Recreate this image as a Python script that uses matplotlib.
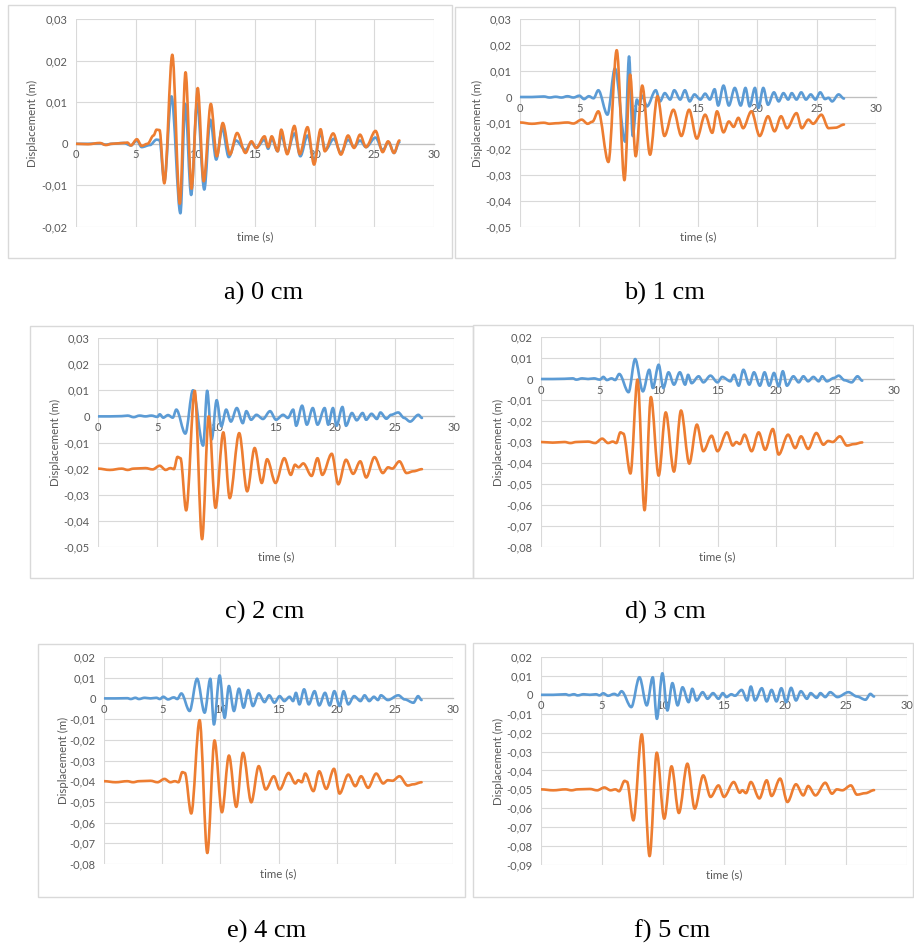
import matplotlib
matplotlib.use('Agg')
import matplotlib.pyplot as plt
from matplotlib.patches import Rectangle, PathPatch
from matplotlib.path import Path
from matplotlib.ticker import FuncFormatter, MultipleLocator

W, H = 914, 949
BLUE = '#5B9BD5'
ORANGE = '#ED7D31'

# displacement traces, (time s, displacement m) at peaks/troughs
a_blue = [(0,0),(1,0),(2,0.0001),(2.5,-0.0002),(3,0),(4,0.0002),(4.6,-0.0004),(5.1,0.0008),(5.5,-0.0008),
  (6.2,-0.0003),(6.75,0.001),(7.0,0.0009),(7.4,-0.009),(8.0,0.0114),(8.75,-0.0167),(9.15,0.0096),(9.65,-0.0123),
  (10.15,0.0098),(10.75,-0.011),(11.25,0.0058),(11.75,-0.0038),(12.25,0.0038),(12.8,-0.0032),(13.4,0.0008),
  (14.2,-0.0015),(14.7,0.0003),(15.1,-0.001),(15.8,0.001),(16.1,-0.0012),(16.4,0.0012),(16.9,-0.0018),(17.2,0.002),
  (17.7,-0.002),(18.3,0.0025),(18.8,-0.003),(19.4,0.002),(19.95,-0.004),(20.5,0.0025),(20.9,-0.0015),(21.6,0.0012),
  (22.2,-0.0022),(22.8,0.001),(23.3,-0.0008),(23.8,0.0008),(24.3,-0.0008),(25.1,0.0015),(25.7,-0.0015),(26.2,0.0004),
  (26.65,-0.0022),(27.1,0.0004)]
a_orange = [(0,0),(1,-0.0001),(2,0.0002),(2.5,-0.0003),(3,0),(3.5,0.0001),(4,0.0002),(4.3,0.0003),(4.6,-0.0004),
  (5.1,0.0011),(5.5,-0.0005),(6.0,0),(6.5,0.002),(6.75,0.0034),(7.0,0.0033),(7.4,-0.0095),(8.07,0.0214),(8.7,-0.0144),
  (9.18,0.0172),(9.68,-0.0108),(10.2,0.0134),(10.7,-0.009),(11.3,0.0096),(11.8,-0.003),(12.3,0.005),(12.9,-0.0026),
  (13.5,0.0026),(14.2,-0.0022),(14.7,0.0006),(15.1,-0.001),(15.8,0.0018),(16.1,-0.0008),(16.4,0.0018),(16.9,-0.0018),
  (17.2,0.0034),(17.7,-0.0025),(18.3,0.0043),(18.75,-0.0025),(19.4,0.004),(19.95,-0.005),(20.5,0.0035),(20.85,-0.0018),
  (21.55,0.0025),(22.2,-0.0026),(22.8,0.002),(23.3,-0.001),(23.8,0.0022),(24.3,-0.0008),(25.1,0.0031),(25.7,-0.002),
  (26.15,0.0006),(26.65,-0.0022),(27.1,0.0008)]

b_blue = [(0,0),(1,0),(2,0.0002),(2.5,-0.0002),(3,0.0001),(3.5,-0.0002),(4,0.0003),(4.5,-0.0002),(5.0,0.0005),
  (5.4,-0.0008),(5.8,0.0003),(6.2,-0.0005),(6.6,0.0026),(7.37,-0.0068),(8.0,0.011),(8.86,-0.0172),(9.19,0.0156),
  (9.5,-0.015),(9.85,-0.001),(10.05,-0.003),(10.3,0.0005),(10.7,-0.0036),(11.44,0.0026),(11.8,-0.0017),(12.2,0.0015),
  (12.65,-0.001),(13.0,0.0026),(13.5,-0.001),(13.9,0.0026),(14.3,-0.0017),(14.7,0.001),(15.2,-0.001),(15.6,0.0013),
  (16.0,-0.001),(16.4,0.003),(16.7,-0.0033),(17.15,0.0044),(17.6,-0.0033),(18.1,0.0035),(18.6,-0.0033),(19.0,0.0035),
  (19.35,-0.0036),(19.8,0.0035),(20.1,-0.0042),(20.5,0.0035),(20.9,-0.003),(21.4,0.0018),(21.8,-0.0017),(22.2,0.0015),
  (22.6,-0.001),(22.9,0.0015),(23.3,-0.001),(23.7,0.0018),(24.1,-0.001),(24.5,0.001),(24.9,-0.001),(25.3,0.0018),
  (25.7,-0.0008),(26.0,-0.0003),(26.3,-0.0017),(26.85,0.001),(27.3,-0.0006)]
b_orange = [(0,-0.0098),(1,-0.0103),(2,-0.0099),(2.5,-0.0103),(3,-0.0101),(4,-0.0098),(4.5,-0.0102),(5.2,-0.0087),
  (5.7,-0.0103),(6.1,-0.0095),(6.6,-0.0055),(7.45,-0.025),(8.15,0.018),(8.8,-0.032),(9.28,0.0086),(9.75,-0.0228),
  (10.3,0.0044),(10.96,-0.0222),(11.58,0.0003),(12.17,-0.015),(12.93,-0.0049),(13.6,-0.015),(14.25,-0.0049),
  (14.9,-0.016),(15.6,-0.0068),(16.2,-0.0138),(16.6,-0.0055),(17.15,-0.0136),(17.6,-0.0094),(18.0,-0.0115),
  (18.4,-0.008),(18.8,-0.012),(19.5,-0.0055),(20.2,-0.015),(20.9,-0.0074),(21.45,-0.0132),(22.0,-0.0074),(22.5,-0.012),
  (23.3,-0.0062),(23.75,-0.012),(24.3,-0.0087),(24.7,-0.0103),(25.4,-0.0068),(26.0,-0.012),(26.6,-0.0118),(27.3,-0.0106)]

c_blue = [(0,0),(1,0),(2,0.0001),(2.5,0.0003),(3,-0.0003),(3.5,0.0003),(4,0),(4.5,0.0003),(5.0,-0.0002),(5.2,0.0008),
  (5.5,-0.0005),(5.9,0.0005),(6.3,-0.0005),(6.6,0.0026),(7.36,-0.0066),(8.0,0.01),(8.86,-0.0112),(9.2,0.0098),
  (9.58,-0.0088),(10.0,0.0062),(10.4,-0.0038),(10.8,0.0026),(11.2,-0.002),(11.7,0.0032),(12.2,-0.0026),(12.5,0.002),
  (12.9,-0.0013),(13.35,0.0006),(13.9,-0.001),(14.5,0.002),(15.0,-0.0013),(15.6,0.0006),(16.0,-0.0006),(16.45,0.0026),
  (16.7,-0.0036),(17.2,0.0041),(17.6,-0.0032),(18.1,0.0032),(18.5,-0.0032),(19.1,0.0032),(19.4,-0.0032),(19.8,0.0032),
  (20.1,-0.0036),(20.6,0.0036),(20.9,-0.0036),(21.4,0.0013),(21.8,-0.0015),(22.3,0.0013),(22.6,-0.0013),(23.05,0.001),
  (23.5,-0.001),(23.8,0.0015),(24.3,-0.0009),(24.7,0.0006),(25.3,0.0015),(25.8,-0.0006),(26.3,-0.002),(27.0,0.0006),
  (27.3,-0.0006)]
c_orange = [(0,-0.02),(1,-0.0205),(2,-0.02),(2.5,-0.0205),(3,-0.02),(4,-0.0198),(4.6,-0.0203),(5.2,-0.0189),
  (5.7,-0.0205),(6.1,-0.0198),(6.4,-0.0202),(6.7,-0.0155),(6.95,-0.016),(7.43,-0.036),(8.15,0.0098),(8.77,-0.047),
  (9.33,0.0),(9.9,-0.035),(10.56,-0.0061),(11.1,-0.0313),(11.9,-0.0064),(12.57,-0.0287),(13.2,-0.0121),(13.8,-0.0255),
  (14.25,-0.0164),(14.96,-0.0255),(15.7,-0.016),(16.25,-0.0224),(16.6,-0.0185),(16.9,-0.0195),(17.3,-0.018),
  (18.0,-0.0228),(18.5,-0.016),(18.9,-0.0224),(19.7,-0.0143),(20.25,-0.026),(20.9,-0.0166),(21.5,-0.022),(22.1,-0.0172),
  (22.6,-0.0234),(23.3,-0.0156),(24.0,-0.0217),(24.45,-0.0195),(24.8,-0.02),(25.4,-0.0172),(26.0,-0.0217),(26.6,-0.021),
  (27.3,-0.0202)]

d_blue = [(0,0),(1,0),(2,0.0001),(2.7,0.0003),(3,-0.0003),(3.5,0.0003),(4,0),(4.5,0.0003),(5.0,-0.0003),(5.3,0.001),
  (5.6,-0.0005),(6.0,0.0003),(6.3,-0.0005),(6.65,0.0024),(7.44,-0.0063),(8.0,0.0095),(8.66,-0.0059),(9.2,0.0044),
  (9.5,-0.0043),(10.0,0.0068),(10.4,-0.0043),(10.84,0.0032),(11.3,-0.0027),(11.8,0.0032),(12.25,-0.0027),(12.5,0.002),
  (12.8,-0.002),(13.4,0.0013),(13.8,-0.0016),(14.4,0.0016),(15.0,-0.0016),(15.4,0.001),(16.1,-0.0011),(16.4,0.002),
  (16.8,-0.0032),(17.2,0.0044),(17.7,-0.0027),(18.1,0.0032),(18.6,-0.0032),(19.0,0.0032),(19.4,-0.0032),(19.8,0.0029),
  (20.2,-0.0035),(20.55,0.0037),(20.9,-0.0032),(21.45,0.0013),(21.9,-0.0016),(22.3,0.0013),(22.7,-0.0011),(23.15,0.001),
  (23.6,-0.0011),(23.9,0.0013),(24.3,-0.0011),(24.9,0.0005),(25.3,0.0016),(25.8,-0.0006),(26.4,-0.0016),(26.9,0.0013),
  (27.3,-0.0008)]
d_orange = [(0,-0.03),(1,-0.0303),(2,-0.03),(2.5,-0.0305),(3,-0.03),(4,-0.0298),(4.6,-0.0305),(5.2,-0.0284),
  (5.7,-0.0305),(6.1,-0.0298),(6.4,-0.0305),(6.75,-0.0254),(7.0,-0.026),(7.6,-0.045),(8.2,-0.0003),(8.8,-0.0625),
  (9.34,-0.0086),(10.0,-0.046),(10.6,-0.0159),(11.3,-0.0441),(11.9,-0.015),(12.6,-0.0403),(13.25,-0.0217),
  (13.8,-0.0344),(14.5,-0.027),(15.0,-0.0344),(15.8,-0.0254),(16.3,-0.0317),(16.6,-0.03),(16.9,-0.031),(17.3,-0.0265),
  (17.9,-0.0344),(18.5,-0.0254),(19.05,-0.0337),(19.7,-0.0238),(20.2,-0.036),(21.0,-0.0265),(21.6,-0.0329),
  (22.1,-0.0273),(22.7,-0.0333),(23.4,-0.0257),(24.0,-0.0313),(24.4,-0.0295),(24.8,-0.03),(25.4,-0.0273),(26.0,-0.0317),
  (26.6,-0.031),(27.3,-0.0302)]

e_blue = [(0,0),(1,0),(2,0.0001),(2.3,-0.0003),(2.7,0.0003),(3,-0.0003),(3.5,0.0003),(4,0),(4.5,0.0003),(4.8,-0.0003),
  (5.1,0.0008),(5.5,-0.0005),(6.0,0.0005),(6.3,-0.0003),(6.65,0.0024),(7.36,-0.0061),(8.0,0.0095),(8.65,-0.0069),
  (9.14,0.0095),(9.45,-0.0126),(9.94,0.0111),(10.37,-0.0094),(10.74,0.006),(11.17,-0.0061),(11.6,0.0047),(12.0,-0.0045),
  (12.4,0.004),(12.8,-0.0037),(13.3,0.0024),(13.8,-0.0018),(14.2,0.0015),(14.65,-0.0021),(15.1,0.0011),(15.5,-0.0013),
  (15.95,0.0008),(16.25,-0.0013),(16.5,0.0027),(16.8,-0.0029),(17.2,0.0044),(17.6,-0.0029),(18.1,0.0035),(18.5,-0.0034),
  (19.0,0.0027),(19.4,-0.0034),(19.8,0.0035),(20.25,-0.0037),(20.6,0.0035),(21.0,-0.0029),(21.5,0.0011),(22.05,-0.0013),
  (22.4,0.0015),(22.8,-0.0013),(23.2,0.0008),(23.55,-0.0008),(23.8,0.0015),(24.4,-0.0008),(25.3,0.0015),(25.85,-0.0005),
  (26.6,-0.0021),(27.0,0.0011),(27.3,-0.0008)]
e_orange = [(0,-0.04),(1,-0.0405),(2,-0.04),(2.5,-0.0405),(3,-0.04),(4,-0.0398),(4.6,-0.0405),(5.2,-0.0389),
  (5.7,-0.0405),(6.1,-0.04),(6.4,-0.0405),(6.73,-0.0356),(6.95,-0.036),(7.5,-0.0556),(8.22,-0.0105),(8.88,-0.0747),
  (9.5,-0.0203),(10.14,-0.055),(10.74,-0.0276),(11.37,-0.0524),(11.95,-0.0263),(12.66,-0.0502),(13.3,-0.0327),
  (13.9,-0.044),(14.6,-0.0376),(15.1,-0.044),(15.87,-0.036),(16.45,-0.0411),(16.7,-0.0395),(17.0,-0.0405),
  (17.3,-0.0363),(18.0,-0.0448),(18.5,-0.0352),(19.1,-0.0437),(19.77,-0.034),(20.25,-0.046),(21.0,-0.0368),
  (21.6,-0.0424),(22.1,-0.0376),(22.7,-0.0432),(23.4,-0.0363),(24.0,-0.0411),(24.4,-0.0395),(24.8,-0.0398),
  (25.4,-0.0376),(26.1,-0.0421),(26.6,-0.0415),(27.3,-0.0405)]

f_blue = [(0,0),(1,0),(2,0.0003),(2.3,-0.0002),(2.7,0.0003),(3,-0.0003),(3.5,0.0003),(4,0),(4.5,0.0003),(4.8,-0.0003),
  (5.1,0.0008),(5.5,-0.0005),(6.0,0.0005),(6.3,-0.0003),(6.6,0.0019),(7.4,-0.0065),(8.07,0.0093),(8.67,-0.0056),
  (9.16,0.0093),(9.5,-0.0127),(9.95,0.0114),(10.36,-0.0083),(10.77,0.0062),(11.2,-0.0056),(11.6,0.004),(12.1,-0.0039),
  (12.4,0.0032),(12.75,-0.003),(13.25,0.0014),(13.65,-0.0021),(14.1,0.0009),(14.55,-0.0021),(14.9,0.0009),(15.2,-0.0012),
  (15.6,0.0003),(15.9,-0.0005),(16.45,0.0026),(16.9,-0.003),(17.2,0.0044),(17.55,-0.003),(18.1,0.0035),(18.5,-0.0035),
  (18.9,0.0026),(19.3,-0.0035),(19.7,0.0035),(20.1,-0.0039),(20.5,0.0037),(20.9,-0.003),(21.3,0.0019),(21.8,-0.0021),
  (22.1,0.0009),(22.6,-0.0016),(22.9,0.0009),(23.3,-0.0012),(23.7,0.0014),(24.3,-0.0012),(25.2,0.0014),(25.9,-0.0009),
  (26.6,-0.0026),(27.0,0.0005),(27.3,-0.0009)]
f_orange = [(0,-0.05),(1,-0.0505),(2,-0.05),(2.5,-0.0505),(3,-0.05),(4,-0.0498),(4.6,-0.0505),(5.2,-0.049),
  (5.7,-0.0505),(6.1,-0.05),(6.4,-0.051),(6.85,-0.0455),(7.05,-0.046),(7.57,-0.0664),(8.26,-0.0209),(8.9,-0.0853),
  (9.49,-0.0306),(10.1,-0.0655),(10.7,-0.0378),(11.3,-0.0625),(12.0,-0.0364),(12.6,-0.0602),(13.3,-0.0426),
  (13.9,-0.054),(14.55,-0.0479),(15.0,-0.054),(15.8,-0.0461),(16.3,-0.0518),(16.5,-0.0505),(16.8,-0.052),
  (17.2,-0.0461),(17.9,-0.0548),(18.5,-0.0452),(18.9,-0.0535),(19.6,-0.0443),(20.2,-0.0567),(20.9,-0.0473),
  (21.5,-0.0532),(21.9,-0.0482),(22.5,-0.0532),(23.3,-0.0465),(23.85,-0.0523),(24.25,-0.05),(24.7,-0.0505),
  (25.4,-0.0479),(25.9,-0.0528),(26.6,-0.052),(27.3,-0.0504)]

captions = ['a) 0 cm', 'b) 1 cm', 'c) 2 cm', 'd) 3 cm', 'e) 4 cm', 'f) 5 cm']
y_ranges = [(-0.02, 0.03), (-0.05, 0.03), (-0.05, 0.03), (-0.08, 0.02), (-0.08, 0.02), (-0.09, 0.02)]

# layout in pixels: plot area (l, t, r, b), outer frame (l, t, r, b), caption centre, ylabel x, xlabel y
plot_px = [(76,19,434,227), (520,19,876,227), (98,338,454,547), (541,337,894,547), (104,657,453,864), (541,657,907,865)]
frame_px = [(8,5,452,258), (455,7,895,258), (30,326,473,578), (473,325,913,578), (38,644,465,897), (473,643,913,897)]
caption_px = [(264,293), (664,293), (265,612), (665,612), (267,931), (672,931)]
ylab_x = [32, 477, 55, 498, 63, 498]
xlab_y = [237, 237, 557, 557, 874, 875]

def fmt(v, pos):
  if abs(v) < 1e-9:
    return '0'
  return ('%.2f' % v).replace('.', ',')

def smooth_path(pts):
  # cubic segments between the read points, flat tangent at each (peaks and troughs)
  verts = [pts[0]]
  codes = [Path.MOVETO]
  for (t0, y0), (t1, y1) in zip(pts[:-1], pts[1:]):
    d = (t1 - t0) / 3.0
    verts += [(t0 + d, y0), (t1 - d, y1), (t1, y1)]
    codes += [Path.CURVE4] * 3
  return Path(verts, codes)

def draw_panel(fig, i, blue, orange):
  l, t, r, b = plot_px[i]
  fl, ft, fr, fb = frame_px[i]
  fig.patches.append(Rectangle((fl/W, 1-fb/H), (fr-fl)/W, (fb-ft)/H, transform=fig.transFigure,
    fill=False, edgecolor='#d9d9d9', linewidth=1.0))
  ax = fig.add_axes([l/W, 1-b/H, (r-l)/W, (b-t)/H])
  ylo, yhi = y_ranges[i]
  ax.set_xlim(0, 30)
  ax.set_ylim(ylo, yhi)
  ax.xaxis.set_major_locator(MultipleLocator(5))
  ax.yaxis.set_major_locator(MultipleLocator(0.01))
  ax.yaxis.set_major_formatter(FuncFormatter(fmt))
  ax.grid(True, color='#d9d9d9', linewidth=0.8)
  ax.set_axisbelow(True)
  for s in ['top', 'right', 'left']:
    ax.spines[s].set_visible(False)
  ax.spines['bottom'].set_position(('data', 0))
  ax.spines['bottom'].set_color('#bfbfbf')
  ax.spines['bottom'].set_linewidth(0.9)
  ax.tick_params(length=0, labelsize=8, labelcolor='#595959')
  ax.tick_params(axis='y', pad=6)
  ax.tick_params(axis='x', pad=4)
  for lab in ax.get_xticklabels() + ax.get_yticklabels():
    lab.set_fontfamily('Lato')
  ax.add_patch(PathPatch(smooth_path(blue), fill=False, edgecolor=BLUE, linewidth=1.9,
    joinstyle='round', capstyle='round', zorder=3))
  ax.add_patch(PathPatch(smooth_path(orange), fill=False, edgecolor=ORANGE, linewidth=1.9,
    joinstyle='round', capstyle='round', zorder=4))
  fig.text(ylab_x[i]/W, 1-((t+b)/2)/H, 'Displacement (m)', rotation=90, ha='center', va='center',
    fontsize=8.3, color='#595959', family='Lato')
  fig.text(((l+r)/2)/W, 1-xlab_y[i]/H, 'time (s)', ha='center', va='center',
    fontsize=8.3, color='#595959', family='Lato')
  cx, cy = caption_px[i]
  fig.text(cx/W, 1-cy/H, captions[i], ha='center', va='center', fontsize=19,
    family='Liberation Serif', color='black')

fig = plt.figure(figsize=(W/100, H/100), dpi=100)
series = [(a_blue, a_orange), (b_blue, b_orange), (c_blue, c_orange),
  (d_blue, d_orange), (e_blue, e_orange), (f_blue, f_orange)]
for i, (bl, orr) in enumerate(series):
  draw_panel(fig, i, bl, orr)

fig.savefig('out.png', dpi=100)
